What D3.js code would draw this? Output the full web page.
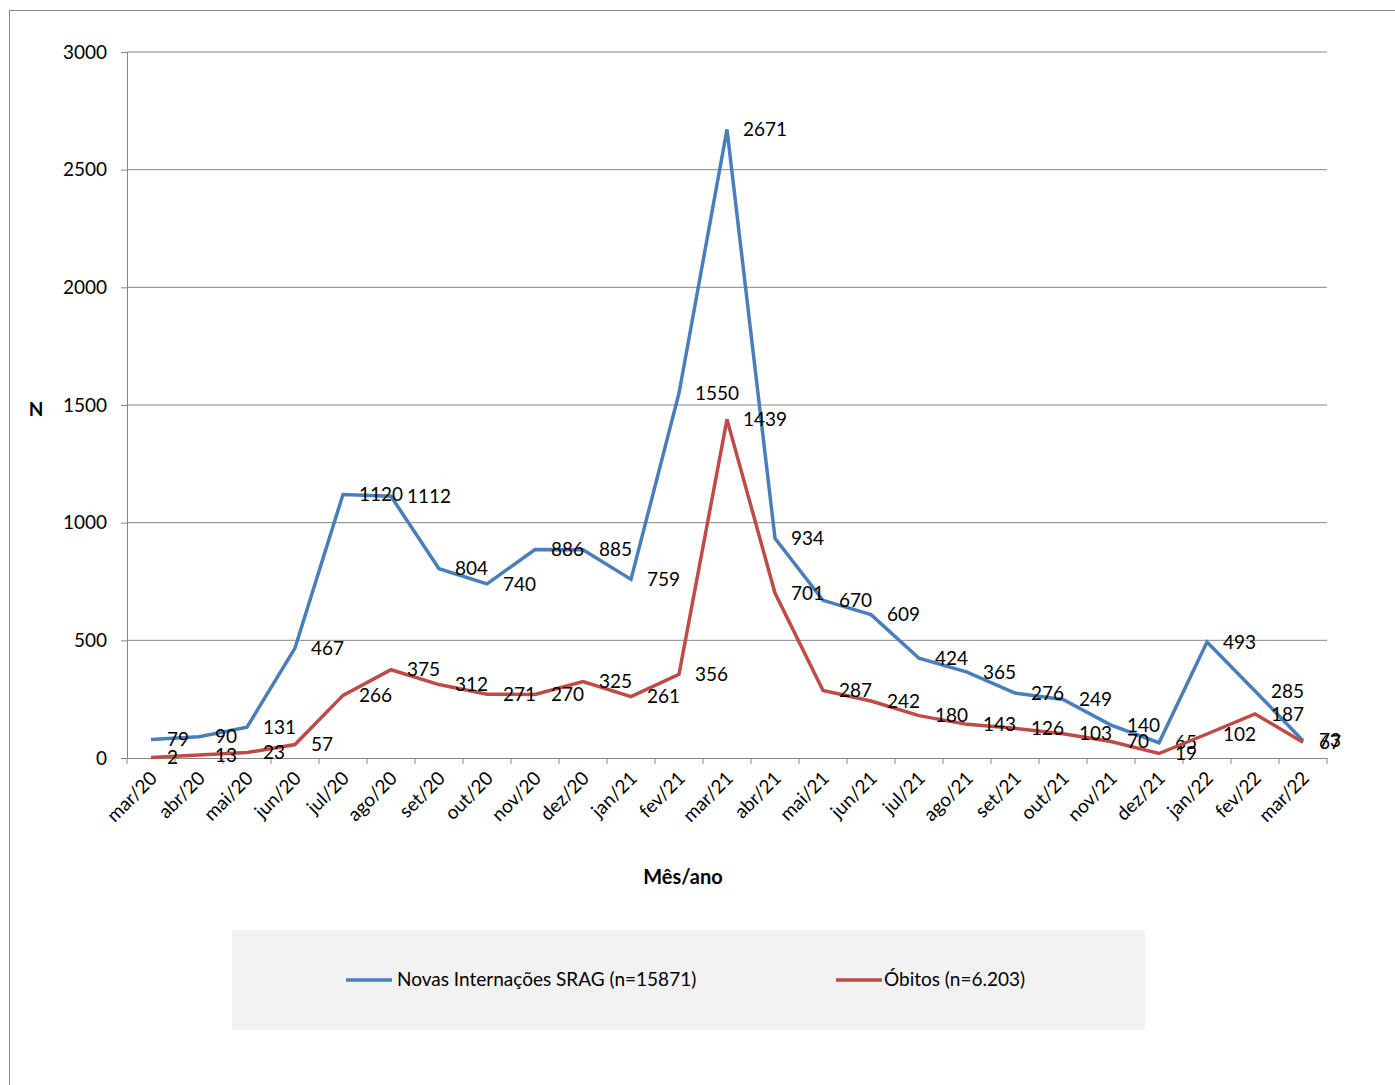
<!DOCTYPE html>
<html><head><meta charset="utf-8">
<script src="https://cdn.jsdelivr.net/npm/d3@7"></script>
<style>body{margin:0;background:#fff}text{font-family:Lato,"Open Sans",sans-serif}</style>
</head><body><svg id="c" width="1395" height="1085"></svg>
<script>
const months=["mar/20","abr/20","mai/20","jun/20","jul/20","ago/20","set/20","out/20","nov/20","dez/20","jan/21","fev/21","mar/21","abr/21","mai/21","jun/21","jul/21","ago/21","set/21","out/21","nov/21","dez/21","jan/22","fev/22","mar/22"];
const internacoes=[79,90,131,467,1120,1112,804,740,886,885,759,1550,2671,934,670,609,424,365,276,249,140,65,493,285,73];
const obitos=[2,13,23,57,266,375,312,271,270,325,261,356,1439,701,287,242,180,143,126,103,70,19,102,187,67];
const yTicks=[0,500,1000,1500,2000,2500,3000];
const seriesNames=["Novas Internações SRAG (n=15871)","Óbitos (n=6.203)"];
const colors=["#4a7ebb","#be4b48"];

const svg=d3.select("#c");
svg.append("rect").attr("x",9.5).attr("y",10.5).attr("width",1400).attr("height",1100).attr("fill","none").attr("stroke","#888");
const L=127,R=1327,T=52,B=758;
const x=d3.scaleBand().domain(months).range([L,R]);
const y=d3.scaleLinear().domain([0,3000]).range([B,T]);
const g=svg.append("g");
g.selectAll(".grid").data(yTicks.slice(1)).join("line").attr("x1",L).attr("x2",R).attr("y1",d=>y(d)).attr("y2",d=>y(d)).attr("stroke","#868686");
const ya=g.append("g").attr("transform",`translate(${L},0)`).call(d3.axisLeft(y).tickValues(yTicks).tickFormat(d3.format("d")).tickSize(6).tickPadding(14));
ya.selectAll("text").attr("font-size",19).attr("fill","#000");
ya.selectAll("line,path").attr("stroke","#868686");
const xa=g.append("g").attr("transform",`translate(0,${B})`).call(d3.axisBottom(x).tickSize(0).tickFormat(""));
xa.select("path").attr("stroke","#868686");
g.selectAll(".xt").data(d3.range(months.length+1)).join("line").attr("x1",i=>L+i*x.step()).attr("x2",i=>L+i*x.step()).attr("y1",B).attr("y2",B+6).attr("stroke","#868686");
g.selectAll(".xl").data(months).join("text").attr("font-size",19).attr("text-anchor","end")
 .attr("transform",d=>`translate(${x(d)+x.bandwidth()/2-2},${B+12}) rotate(-45)`).attr("dy","0.7em").text(d=>d);
const line=d3.line().x((d,i)=>x(months[i])+x.bandwidth()/2).y(d=>y(d));
[internacoes,obitos].forEach((s,k)=>{
 g.append("path").attr("d",line(s)).attr("fill","none").attr("stroke",colors[k]).attr("stroke-width",3.5);
 g.selectAll(".lb"+k).data(s).join("text").attr("font-size",19)
  .attr("x",(d,i)=>x(months[i])+x.bandwidth()/2+16).attr("y",d=>y(d)).attr("dy","0.35em").text(d=>d);
});
svg.append("text").attr("x",683).attr("y",884).attr("text-anchor","middle").attr("font-weight","bold").attr("font-size",20).text("Mês/ano");
svg.append("text").attr("x",36).attr("y",416).attr("text-anchor","middle").attr("font-weight","bold").attr("font-size",19).text("N");
svg.append("rect").attr("x",232).attr("y",930).attr("width",913).attr("height",100).attr("fill","#f2f2f2");
[[346,397],[836,884]].forEach(([lx,tx],k)=>{
 svg.append("line").attr("x1",lx).attr("x2",lx+46).attr("y1",980).attr("y2",980).attr("stroke",colors[k]).attr("stroke-width",3.5);
 svg.append("text").attr("x",tx).attr("y",986).attr("font-size",19).text(seriesNames[k]);
});
</script></body></html>
